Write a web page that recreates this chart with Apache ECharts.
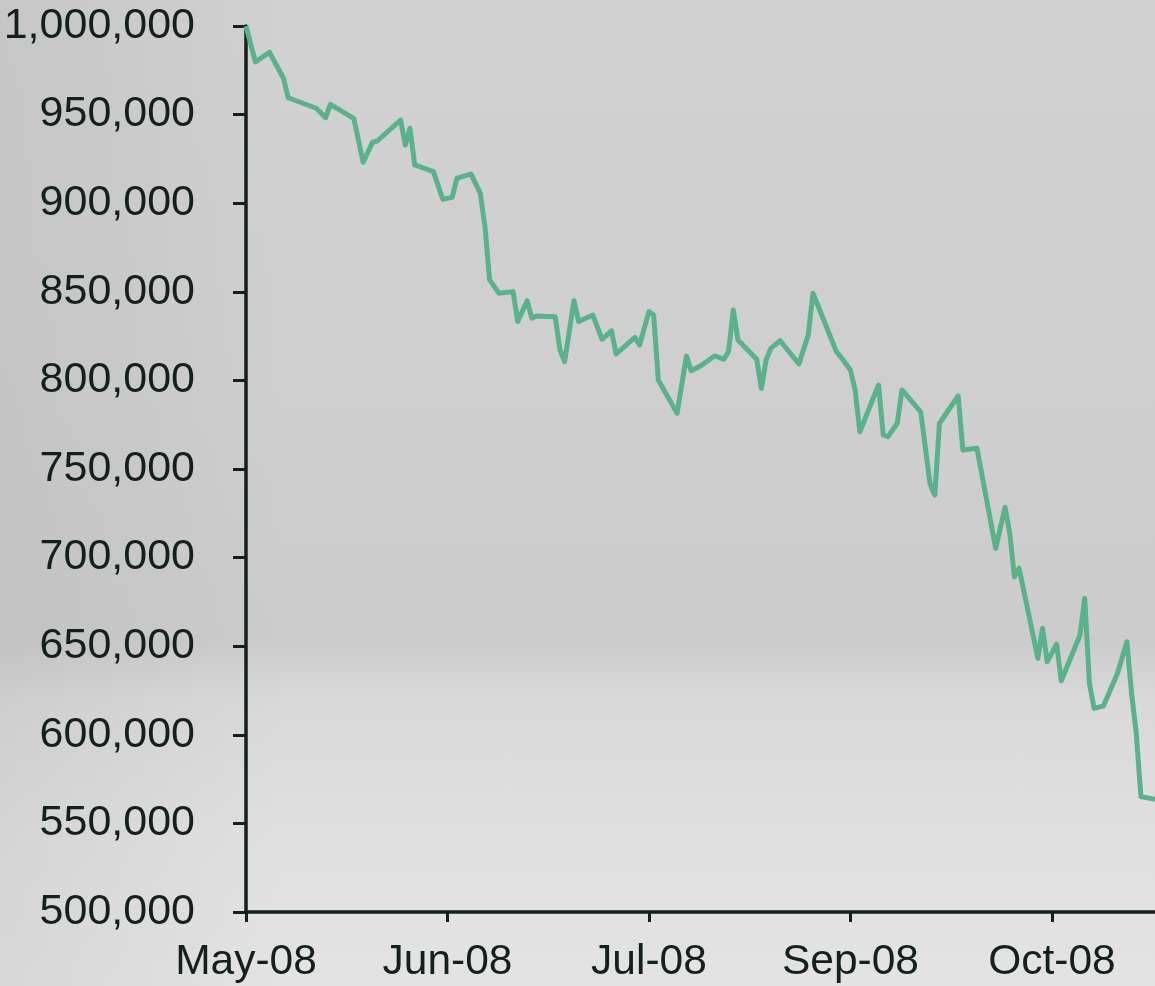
<!DOCTYPE html>
<html>
<head>
<meta charset="utf-8">
<script src="https://cdn.jsdelivr.net/npm/echarts@6/dist/echarts.min.js"></script>
<style>
html,body{margin:0;padding:0;}
body{width:1155px;height:986px;overflow:hidden;
background:
 linear-gradient(to right, rgba(0,0,0,0.05) 0%, rgba(0,0,0,0.0) 25%, rgba(0,0,0,0) 100%),
 linear-gradient(to bottom, #d1d1d1 0%, #cfcfcf 40%, #cccccc 65%, #d9d9d9 71%, #e0e0e0 85%, #e3e3e3 100%);}
#chart{width:1155px;height:986px;}
</style>
</head>
<body>
<div id="chart"></div>
<script>
const startDate = '2008-05-01';
const dates = [
 '2008-05-01','2008-05-03','2008-05-06','2008-05-09','2008-05-10','2008-05-16','2008-05-18','2008-05-19','2008-05-24','2008-05-26',
 '2008-05-28','2008-05-29','2008-06-03','2008-06-04','2008-06-05','2008-06-06','2008-06-10','2008-06-12','2008-06-14','2008-06-15',
 '2008-06-18','2008-06-20','2008-06-21','2008-06-22','2008-06-24','2008-06-27','2008-06-28','2008-06-30','2008-07-01','2008-07-02',
 '2008-07-06','2008-07-07','2008-07-08','2008-07-10','2008-07-11','2008-07-14','2008-07-16','2008-07-18','2008-07-19','2008-07-23',
 '2008-07-24','2008-07-26','2008-07-27','2008-07-28','2008-08-01','2008-08-03','2008-08-04','2008-08-06','2008-08-09','2008-08-11',
 '2008-08-12','2008-08-13','2008-08-14','2008-08-18','2008-08-19','2008-08-20','2008-08-21','2008-08-23','2008-08-27','2008-08-29',
 '2008-08-30','2008-09-04','2008-09-05','2008-09-07','2008-09-08','2008-09-09','2008-09-13','2008-09-14','2008-09-15','2008-09-17',
 '2008-09-18','2008-09-22','2008-09-24','2008-09-25','2008-09-26','2008-09-30','2008-10-01','2008-10-04','2008-10-08','2008-10-10',
 '2008-10-11','2008-10-12','2008-10-13','2008-10-17','2008-10-18','2008-10-19','2008-10-21','2008-10-22','2008-10-26','2008-10-27',
 '2008-10-28','2008-10-29','2008-10-31','2008-11-03','2008-11-05','2008-11-06','2008-11-07','2008-11-08','2008-11-11'
];
const values = [
 1000000,979700,985200,970500,959500,953600,948300,955800,947900,923100,
 934400,935100,946900,932800,942300,921600,917800,902200,903300,914000,
 916500,905600,886700,856700,849200,850100,833200,845000,835100,836300,
 835900,817200,810600,845000,833200,836900,823200,828000,814900,824300,
 820000,838800,836900,800200,781400,813800,805500,808100,813800,811900,
 816500,839700,822800,811900,795500,811500,818100,822400,809300,825600,
 849200,816200,813000,805900,794600,771000,797400,769200,768200,775800,
 794600,782300,741500,735300,775800,791200,760700,761700,705200,728400,
 713700,689200,694000,643200,660100,641300,651200,630500,656300,677000,
 629100,614900,616300,634700,652500,623400,600800,565100,563600
];
const tickDates = ['2008-05-01','2008-06-13','2008-07-26','2008-09-07','2008-10-20'];
const tickLabels = ['May-08','Jun-08','Jul-08','Sep-08','Oct-08'];
const yMin = 500000, yMax = 1000000, yStep = 50000;

function dayOffset(s){
  const [y,m,d] = s.split('-').map(Number);
  const [y0,m0,d0] = startDate.split('-').map(Number);
  return Math.round((Date.UTC(y,m-1,d) - Date.UTC(y0,m0-1,d0)) / 86400000);
}
const points = dates.map((d,i)=>[dayOffset(d), values[i]]);
const tickDays = tickDates.map(dayOffset);
const xMax = dayOffset(dates[dates.length-1]);

const axisColor = '#13201b';
const font = 'Liberation Sans, Arial, sans-serif';
const chart = echarts.init(document.getElementById('chart'), null, {renderer:'canvas'});
chart.setOption({
  backgroundColor: 'transparent',
  animation: false,
  grid: {left: 246, top: 26, right: 0, bottom: 74, containLabel: false},
  xAxis: {
    type: 'value', min: 0, max: xMax,
    splitLine: {show:false},
    axisLine: {show:true, lineStyle:{color:axisColor, width:3.5}},
    axisTick: {show:true, customValues: tickDays, length: 10, lineStyle:{color:axisColor, width:3}},
    axisLabel: {customValues: tickDays, margin: 29, color: axisColor, fontSize: 42.5, fontFamily: font,
      formatter: v => { const i = tickDays.indexOf(Math.round(v)); return i >= 0 ? tickLabels[i] : ''; }}
  },
  yAxis: {
    type: 'value', min: yMin, max: yMax, interval: yStep,
    splitLine: {show:false},
    axisLine: {show:true, lineStyle:{color:axisColor, width:3.5}},
    axisTick: {show:true, inside:false, length: 13, lineStyle:{color:axisColor, width:3}},
    axisLabel: {margin: 51, color: axisColor, fontSize: 43, fontFamily: font,
      formatter: v => String(v).replace(/\B(?=(\d{3})+(?!\d))/g, ',')}
  },
  series: [{
    type: 'line', data: points, showSymbol: false, clip: false,
    lineStyle: {color: '#59b28a', width: 5, join: 'round'},
    z: 1
  }]
});
</script>
</body>
</html>
